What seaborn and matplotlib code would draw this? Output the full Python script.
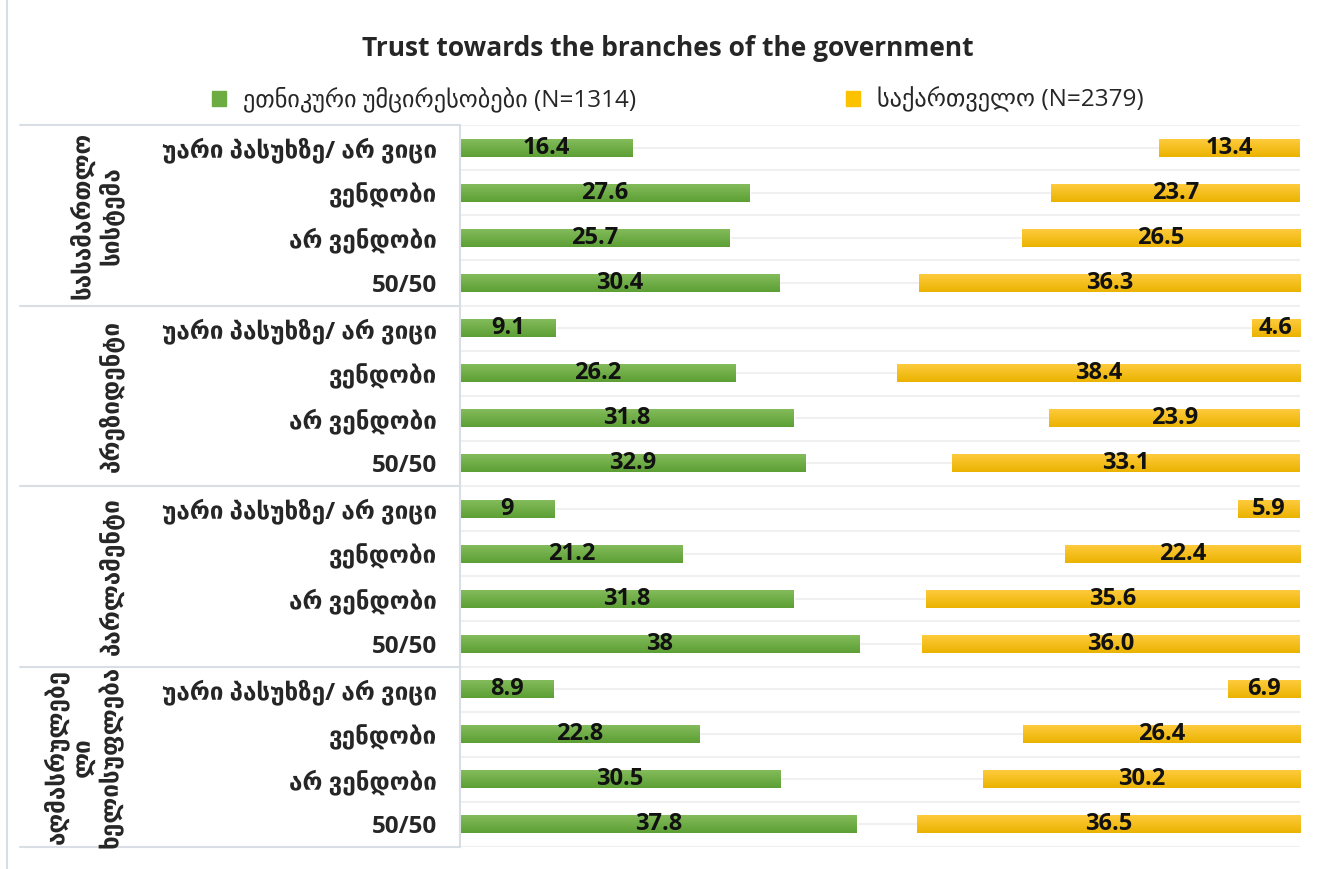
"""Trust towards the branches of the government

Back-to-back horizontal bars: ethnic minorities (left, green) vs Georgia (right, yellow).
"""
import numpy as np
import pandas as pd
import seaborn as sns
import matplotlib.pyplot as plt
from matplotlib.patches import Patch

# Data
groups = ["სასამართლო\nსისტემა", "პრეზიდენტი", "პარლამენტი", "აღმასრულებე\nლი\nხელისუფლება"]
answers = ["უარი პასუხზე/ არ ვიცი", "ვენდობი", "არ ვენდობი", "50/50"]
minorities = [16.4, 27.6, 25.7, 30.4, 9.1, 26.2, 31.8, 32.9, 9, 21.2, 31.8, 38, 8.9, 22.8, 30.5, 37.8]
georgia = [13.4, 23.7, 26.5, 36.3, 4.6, 38.4, 23.9, 33.1, 5.9, 22.4, 35.6, 36.0, 6.9, 26.4, 30.2, 36.5]
series_names = ["ეთნიკური უმცირესობები (N=1314)", "საქართველო (N=2379)"]
title = "Trust towards the branches of the government"

GREEN = "#6dab43"
YELLOW = "#fcc200"
GRID = "#f0f0f0"
TABLE = "#d9dde4"

sns.set_style("white")
plt.rcParams["font.family"] = ["Open Sans", "DejaVu Sans"]

rows = [f"r{i}" for i in range(len(minorities))]
df = pd.DataFrame({"row": rows, "minorities": minorities, "georgia": georgia})

W, H = 1328, 869
fig = plt.figure(figsize=(W / 100, H / 100), dpi=100)
bottom = (H - 847) / H
height = 722 / H
ax1 = fig.add_axes([460 / W, bottom, 420 / W, height])
ax2 = fig.add_axes([880 / W, bottom, 420 / W, height])

sns.barplot(data=df, x="minorities", y="row", orient="h", color=GREEN,
            width=0.4, saturation=1, ax=ax1)
sns.barplot(data=df, x="georgia", y="row", orient="h", color=YELLOW,
            width=0.4, saturation=1, ax=ax2)


def gradient(ax, top, bot):
    # paint each bar with a vertical gradient, lighter on top
    xl, yl = ax.get_xlim(), ax.get_ylim()
    grad = np.linspace(0, 1, 64).reshape(-1, 1)
    cmap = sns.blend_palette([top, bot], as_cmap=True)
    for p in ax.patches:
        x0, y0 = p.get_x(), p.get_y()
        w, h = p.get_width(), p.get_height()
        im = ax.imshow(grad, cmap=cmap, aspect="auto", zorder=p.get_zorder() + 0.1,
                       extent=[x0, x0 + w, y0 + h, y0], interpolation="bicubic")
        im.set_clip_path(p)
    ax.set_xlim(xl)
    ax.set_ylim(yl)


for ax, vals, fmt in [(ax1, minorities, "{:g}"), (ax2, georgia, "{:.1f}")]:
    ax.set_xlim(0, 40)
    ax.set_ylim(len(rows) - 0.5, -0.5)
    ax.set_xlabel("")
    ax.set_ylabel("")
    ax.set_xticks([])
    ax.set_yticks(np.arange(len(rows)))
    ax.set_yticks(np.arange(len(rows) + 1) - 0.5, minor=True)
    ax.grid(axis="y", which="both", color=GRID, lw=1.5)
    ax.set_axisbelow(True)
    for s in ax.spines.values():
        s.set_visible(False)
    ax.bar_label(ax.containers[0], labels=[fmt.format(v) for v in vals],
                 label_type="center", fontsize=17, fontweight="bold",
                 color="#111111", zorder=5)

gradient(ax1, "#86bd5e", "#5c9f34")
gradient(ax2, "#ffcc40", "#ebb300")
for t in ax1.texts + ax2.texts:
    t.set_zorder(10)

ax2.set_xlim(40, 0)
ax2.tick_params(axis="y", which="both", left=False, labelleft=False)

# category labels on the left axis
ax1.set_yticklabels(answers * len(groups), fontsize=17.5, fontweight="bold")
ax1.tick_params(axis="y", which="both", left=False, pad=13)
ax1.spines["left"].set_visible(True)
ax1.spines["left"].set_color(TABLE)
ax1.spines["left"].set_linewidth(1.5)

# table lines and group labels
tr = ax1.get_yaxis_transform()
x_tab = (20 - 460) / 420
for g in range(len(groups) + 1):
    ax1.plot([x_tab, 0], [g * 4 - 0.5] * 2, color=TABLE, lw=1.5,
             transform=tr, clip_on=False)
for g, name in enumerate(groups):
    ax1.text((124 - 460) / 420, g * 4 + 1.5, name, transform=tr, rotation=90,
             ha="right", va="center", multialignment="center",
             fontsize=17.5, fontweight="bold", linespacing=1.15)

# outer left border of the chart
fig.add_artist(plt.Line2D([7 / W, 7 / W], [0, 1], color=TABLE, lw=1.5))

fig.text(668 / W, 1 - 48 / H, title, ha="center", va="center",
         fontsize=19, fontweight="bold")

handles = [Patch(color=GREEN), Patch(color=YELLOW)]
fig.legend(handles, series_names, loc="center left", ncol=2,
           bbox_to_anchor=(190 / W, 1 - 100 / H), frameon=False,
           fontsize=17.5, handlelength=0.6, handleheight=0.6,
           handletextpad=0.7, columnspacing=8.6)

fig.savefig("out.png", dpi=100)
